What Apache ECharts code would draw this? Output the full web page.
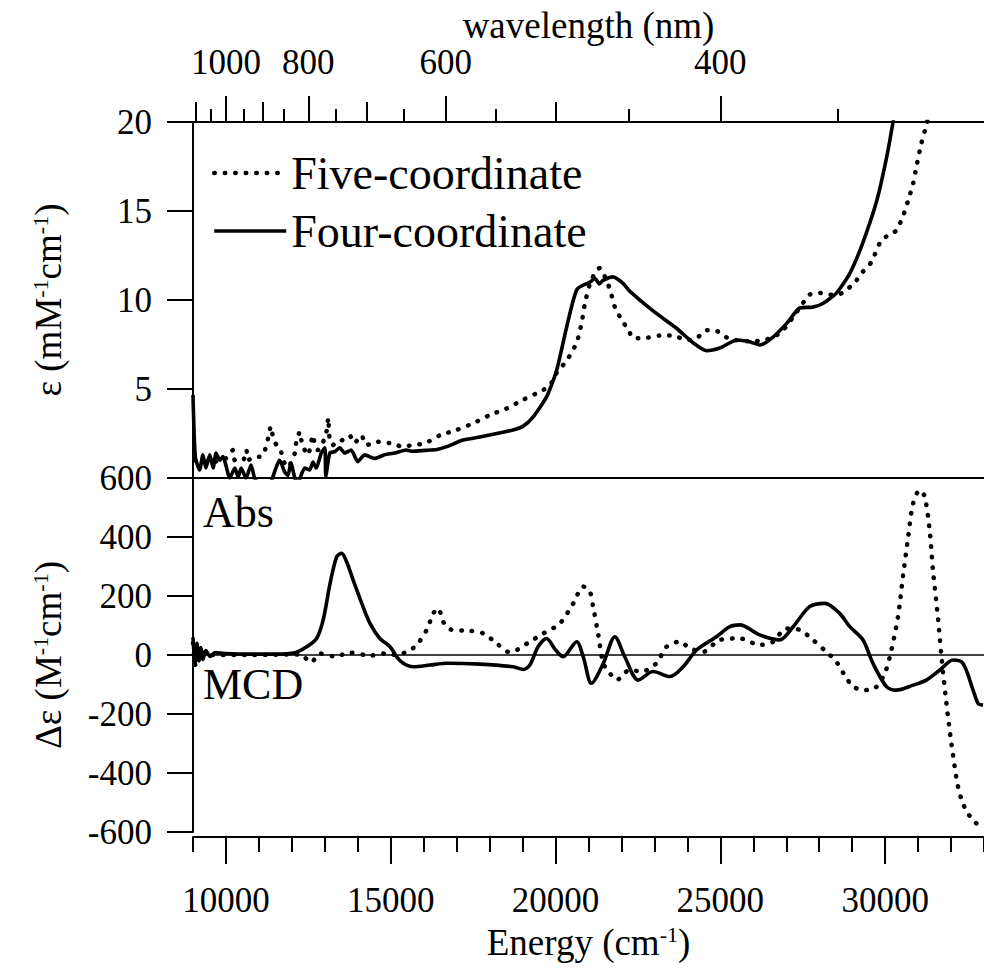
<!DOCTYPE html>
<html><head><meta charset="utf-8">
<script src="https://cdn.jsdelivr.net/npm/echarts@6/dist/echarts.min.js"></script>
<style>html,body{margin:0;padding:0;background:#fff}#c{width:984px;height:968px}</style>
</head><body><div id="c"></div>
<script>
// ---------- axis / tick data ----------
const energyMin = 9000, energyMax = 33000;
const energyTicks = [9000,10000,11000,12000,13000,14000,15000,16000,17000,18000,19000,20000,21000,22000,23000,24000,25000,26000,27000,28000,29000,30000,31000,32000,33000];
const energyLabels = [10000,15000,20000,25000,30000];
const wavelengthMajor = [1000,800,600,400];
const wavelengthMedium = [1100,900,700,500];
const wavelengthMinor = [1050,950,850,750,650,550,450,350];

// ---------- Absorption: five-coordinate (dotted) ----------
const absFiveE = [9050,9600,10000,10210,10270,10520,10620,10670,10870,11070,11220,11280,11360,11430,11530,11660,11730,11880,12090,12130,12240,12290,12390,12490,12640,12690,12790,13000,13070,13100,13150,13250,13350,13500,13650,13750,13900,14110,14260,14610,14810,15070,15320,15680,16040,16490,17000,17500,18010,18510,19020,19530,19830,20030,20340,20640,20790,20890,21040,21190,21340,21500,21650,21800,22000,22200,22360,22660,23160,23570,23970,24280,24580,24830,25190,25440,25990,26300,26600,26900,27210,27460,27710,28020,28320,28570,28830,29130,29330,29590,29840,30090,30340,30540,30700,30850,30950,31100,31250,31350];
const absFiveV = [1.0,0.9,1.1,1.57,1.0,1.0,1.57,1.0,1.2,1.2,1.76,2.24,2.9,2.3,1.85,1.57,1.0,0.6,1.4,1.96,2.6,2.1,1.57,1.3,2.4,1.96,1.57,2.24,2.8,3.37,2.1,1.85,2.04,2.1,2.3,2.4,1.96,2.4,1.85,2.04,1.96,1.96,1.76,1.85,1.95,2.4,2.7,3.07,3.54,3.9,4.4,4.85,5.2,5.9,6.6,7.6,8.7,9.8,10.9,11.5,11.8,11.3,10.6,9.6,8.9,8.35,7.85,7.85,8.0,8.0,7.75,7.85,8.3,8.3,7.9,7.75,7.67,7.75,7.9,8.3,9.05,9.7,10.3,10.4,10.3,10.3,10.56,11.1,11.6,12.15,13.2,13.65,13.9,14.7,15.6,16.55,17.5,18.8,19.8,20.5];

// ---------- Absorption: four-coordinate (solid) ----------
const absFourE = [9000,9070,9200,9300,9390,9510,9610,9700,9810,9910,10010,10110,10270,10370,10460,10610,10760,10870,11090,11340,11630,11780,11880,11970,12090,12170,12390,12540,12640,12740,12890,13000,13030,13150,13300,13450,13600,13800,14000,14210,14510,14810,15120,15470,15670,16040,16400,16700,17190,17700,18220,18710,19010,19310,19740,20040,20340,20650,21040,21200,21330,21440,21740,22040,22250,22950,23680,24170,24590,24980,25500,25890,26200,26590,27020,27410,27800,28110,28530,28930,29320,29750,30050,30230,30320];
const absFourV = [4.66,1.2,0.45,1.3,0.56,1.3,0.56,1.4,1.0,1.2,0.63,0.0,0.56,0.05,0.56,0.0,0.73,0.0,-0.5,-0.3,1.0,0.34,0.15,0.84,0.0,-0.3,0.56,0.45,0.9,0.56,1.4,1.7,0.1,1.4,1.48,1.7,1.4,1.57,0.92,1.3,1.1,1.3,1.4,1.57,1.5,1.55,1.6,1.76,2.13,2.3,2.5,2.7,2.9,3.4,4.6,6.1,8.5,10.6,11.0,11.2,10.9,11.1,11.3,10.95,10.5,9.4,8.4,7.6,7.15,7.3,7.75,7.65,7.47,7.9,8.7,9.55,9.6,9.8,10.4,11.5,13.2,15.6,18.05,19.9,21];

// ---------- MCD: five-coordinate (dotted) ----------
const mcdFiveE = [9000,9090,9210,9520,10730,12250,12580,12850,13310,13760,14370,14820,15180,15580,15790,16090,16290,16440,16590,16800,17400,17810,18210,18560,18820,19220,19630,20130,20540,20840,21040,21140,21290,21450,21650,21850,22250,22610,23060,23370,23770,24070,24480,24980,25590,26200,26600,27000,27410,27810,28210,28520,28770,29030,29380,29690,29990,30190,30390,30540,30700,30850,31050,31200,31350,31450,31610,31710,31860,32010,32210,32360,32510,32720,32920];
const mcdFiveV = [40,-40,10,0,0,2,-25,5,-5,8,-2,5,0,17,34,85,141,158,113,87,82,73,40,11,17,45,73,107,175,232,215,164,73,-28,-62,-85,-51,-56,-28,28,45,23,11,51,56,34,45,90,85,51,11,-23,-68,-107,-119,-113,-62,17,130,265,401,514,559,537,424,288,119,-6,-164,-299,-446,-503,-537,-565,-588];

// ---------- MCD: four-coordinate (solid) ----------
const mcdFourE = [9000,9060,9120,9180,9240,9300,9390,9520,9670,9970,10730,11490,12090,12450,12750,12950,13160,13360,13510,13660,13860,14120,14370,14670,14980,15180,15380,15680,16190,16700,17710,18720,19020,19220,19470,19730,19980,20230,20640,20840,21090,21450,21800,22100,22510,22960,23470,23870,24280,24880,25290,25590,26200,26800,27210,27710,28170,28620,28930,29330,29630,30040,30340,30850,31250,31660,32060,32360,32670,32820,32970];
const mcdFourV = [60,-30,40,-20,25,-15,15,-5,8,5,3,3,8,28,56,119,243,333,345,316,254,175,107,56,28,-6,-28,-40,-34,-28,-31,-40,-49,-34,28,56,20,-6,45,-6,-96,-28,62,-6,-85,-56,-73,-40,17,62,96,102,68,51,96,164,175,141,96,51,-28,-107,-119,-102,-85,-51,-17,-28,-119,-164,-170];

const zip = (a, b) => a.map((x, i) => [x, b[i]]);
const wl2e = w => 1e7 / w;
const F = 'Liberation Serif';
const K = '#000';
const axisLine = {show: true, onZero: false, lineStyle: {color: K, width: 2}};
const noSplit = {show: false};
const tickLS = {color: K, width: 2};
const NS = 37; // axis-title font size
const richName = {a: {fontSize: NS, fontFamily: F, color: K}, s: {fontSize: 22, fontFamily: F, color: K, verticalAlign: 'top', padding: [0, 0, 16, 0]}};

const chart = echarts.init(document.getElementById('c'), null, {renderer: 'svg'});
const baseX = {type: 'value', min: energyMin, max: energyMax, splitLine: noSplit};

const dotted = {color: K, width: 4.5, type: [0.5, 10], cap: 'round'};
const solid = {color: K, width: 3.6, type: 'solid', join: 'round'};

chart.setOption({
  animation: false,
  backgroundColor: '#fff',
  grid: [
    {left: 193, right: 0, top: 122, height: 356},
    {left: 193, right: 0, top: 478, height: 354}
  ],
  xAxis: [
    Object.assign({}, baseX, {gridIndex: 0, position: 'bottom', axisLine: axisLine, axisTick: {show: false}, axisLabel: {show: false}}),
    Object.assign({}, baseX, {gridIndex: 0, position: 'top', axisLine: axisLine,
      axisTick: {show: true, inside: false, customValues: wavelengthMajor.map(wl2e), length: 26, lineStyle: tickLS},
      axisLabel: {show: true, customValues: wavelengthMajor.map(wl2e), formatter: v => String(Math.round(1e7 / v)), fontSize: 35, fontFamily: F, color: K, margin: 42},
      name: 'wavelength (nm)', nameLocation: 'middle', nameGap: 78, nameTextStyle: {fontSize: NS, fontFamily: F, color: K}}),
    Object.assign({}, baseX, {gridIndex: 0, position: 'top', axisLine: {show: false, onZero: false},
      axisTick: {show: true, customValues: wavelengthMedium.map(wl2e), length: 20, lineStyle: tickLS}, axisLabel: {show: false}}),
    Object.assign({}, baseX, {gridIndex: 0, position: 'top', axisLine: {show: false, onZero: false},
      axisTick: {show: true, customValues: wavelengthMinor.map(wl2e), length: 13, lineStyle: tickLS}, axisLabel: {show: false}}),
    Object.assign({}, baseX, {gridIndex: 1, position: 'bottom', offset: 5, axisLine: axisLine,
      axisTick: {show: true, customValues: energyTicks, length: 15, lineStyle: tickLS},
      axisLabel: {show: true, customValues: energyLabels, formatter: v => String(v), fontSize: 35, fontFamily: F, color: K, margin: 46},
      name: '{a|Energy (cm}{s|-1}{a|)}', nameLocation: 'middle', nameGap: 86,
      nameTextStyle: {rich: richName}}),
    Object.assign({}, baseX, {gridIndex: 1, position: 'bottom', offset: 5, axisLine: {show: false, onZero: false},
      axisTick: {show: true, customValues: energyLabels, length: 27, lineStyle: tickLS}, axisLabel: {show: false}}),
    Object.assign({}, baseX, {gridIndex: 1, position: 'bottom', axisLine: {show: true, onZero: true, lineStyle: {color: K, width: 1.5}},
      axisTick: {show: false}, axisLabel: {show: false}})
  ],
  yAxis: [
    {gridIndex: 0, type: 'value', min: 0, max: 20, interval: 5, axisLine: axisLine, splitLine: noSplit,
      axisTick: {show: true, length: 26, lineStyle: tickLS},
      axisLabel: {showMinLabel: false, fontSize: 35, fontFamily: F, color: K, margin: 41},
      name: '{a|ε (mM}{s|-1}{a|cm}{s|-1}{a|)}', nameLocation: 'middle', nameGap: 126, nameRotate: 90,
      nameTextStyle: {rich: richName}},
    {gridIndex: 1, type: 'value', min: -600, max: 600, interval: 200, axisLine: axisLine, splitLine: noSplit,
      axisTick: {show: true, length: 26, lineStyle: tickLS},
      axisLabel: {fontSize: 35, fontFamily: F, color: K, margin: 41},
      name: '{a|Δε (M}{s|-1}{a|cm}{s|-1}{a|)}', nameLocation: 'middle', nameGap: 126, nameRotate: 90,
      nameTextStyle: {rich: richName}}
  ],
  legend: {
    data: ['Five-coordinate', 'Four-coordinate'], orient: 'vertical', left: 212, top: 150,
    itemWidth: 72, itemHeight: 14, itemGap: 12, padding: 0,
    itemStyle: {color: 'rgba(0,0,0,0)', opacity: 0, borderWidth: 0},
    lineStyle: {width: 'inherit', type: 'inherit', cap: 'inherit', color: K},
    textStyle: {fontSize: 46, fontFamily: F, color: K}, selectedMode: false
  },
  graphic: [
    {type: 'text', left: 203, top: 490, style: {text: 'Abs', font: '44px "Liberation Serif"', fill: K}},
    {type: 'text', left: 203, top: 662, style: {text: 'MCD', font: '44px "Liberation Serif"', fill: K}}
  ],
  series: [
    {name: 'Five-coordinate', type: 'line', xAxisIndex: 0, yAxisIndex: 0, data: zip(absFiveE, absFiveV), symbol: 'none', showSymbol: false, smooth: 0.2, itemStyle: {color: K}, lineStyle: dotted, clip: true},
    {name: 'Four-coordinate', type: 'line', xAxisIndex: 0, yAxisIndex: 0, data: zip(absFourE, absFourV), symbol: 'none', showSymbol: false, smooth: 0.2, itemStyle: {color: K}, lineStyle: solid, clip: true},
    {name: 'Five-coordinate', type: 'line', xAxisIndex: 4, yAxisIndex: 1, data: zip(mcdFiveE, mcdFiveV), symbol: 'none', showSymbol: false, smooth: 0.3, itemStyle: {color: K}, lineStyle: dotted, clip: true},
    {name: 'Four-coordinate', type: 'line', xAxisIndex: 4, yAxisIndex: 1, data: zip(mcdFourE, mcdFourV), symbol: 'none', showSymbol: false, smooth: 0.3, itemStyle: {color: K}, lineStyle: solid, clip: true}
  ]
});
</script></body></html>
